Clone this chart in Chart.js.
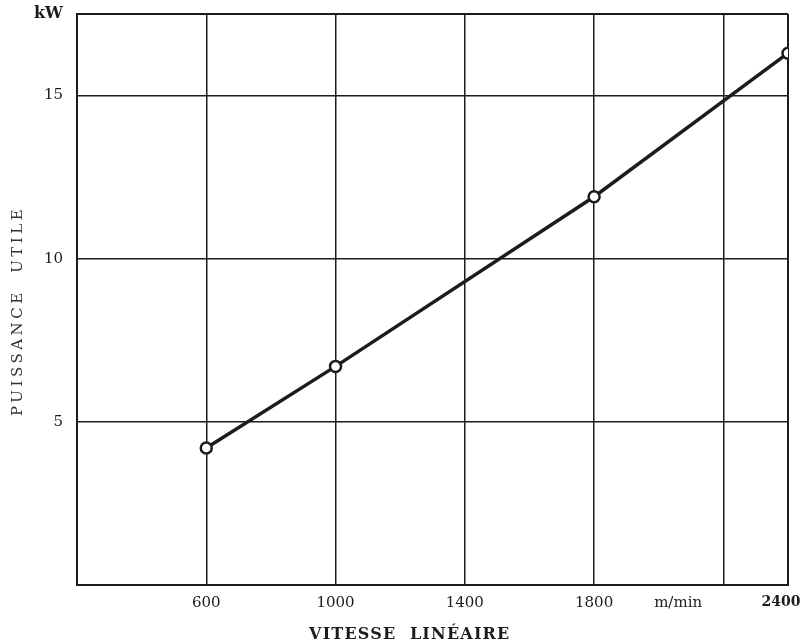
<!DOCTYPE html>
<html>
<head>
<meta charset="utf-8">
<script src="https://cdn.jsdelivr.net/npm/chart.js@4"></script>
<style>
  html, body { margin: 0; padding: 0; background: #fff; }
  #wrap { width: 805px; height: 644px; }
</style>
</head>
<body>
<div id="wrap"><canvas id="c" width="805" height="644"></canvas></div>
<script>
// Useful power against linear speed
const speeds = [600, 1000, 1800, 2400];
const power = [4.2, 6.7, 11.9, 16.3];

// Axis ticks and their labels
const xTicks = [200, 600, 1000, 1400, 1800, 2060, 2200, 2400];
const xTickLabels = ['', '600', '1000', '1400', '1800', 'm/min', '', '2400'];
const yTicks = [0, 5, 10, 15, 17.5];
const yTickLabels = ['', '5', '10', '15', 'kW'];

const xTitle = 'VITESSE  LINÉAIRE';
const yTitle = 'PUISSANCE  UTILE';

const INK = '#1c1c1c';
const SERIF = '"DejaVu Serif", "Liberation Serif", serif';

// Axis titles drawn by hand so they can sit off-centre
const axisTitles = {
  id: 'axisTitles',
  afterDraw(chart) {
    const ctx = chart.ctx;
    const a = chart.chartArea;
    ctx.save();
    ctx.fillStyle = INK;
    ctx.textAlign = 'center';
    ctx.textBaseline = 'middle';
    ctx.font = 'bold 16px ' + SERIF;
    ctx.letterSpacing = '1.2px';
    ctx.fillText(xTitle, a.left + (a.right - a.left) * 0.468, 635);
    ctx.translate(18, a.top + (a.bottom - a.top) * 0.52);
    ctx.rotate(-Math.PI / 2);
    ctx.font = '15px ' + SERIF;
    ctx.fillStyle = '#333';
    ctx.letterSpacing = '3.5px';
    ctx.fillText(yTitle, 0, 0);
    ctx.restore();
  }
};

new Chart(document.getElementById('c'), {
  type: 'line',
  data: {
    datasets: [{
      data: speeds.map((s, i) => ({ x: s, y: power[i] })),
      borderColor: INK,
      borderWidth: 3.5,
      pointRadius: 5.5,
      pointBorderWidth: 2.5,
      pointBackgroundColor: '#fff',
      pointBorderColor: INK,
      tension: 0
    }]
  },
  options: {
    responsive: false,
    animation: false,
    layout: { padding: { left: 0, top: 14, right: 17, bottom: 0 } },
    plugins: { legend: { display: false }, tooltip: { enabled: false } },
    scales: {
      x: {
        type: 'linear',
        min: 200,
        max: 2400,
        afterBuildTicks: s => { s.ticks = xTicks.map(v => ({ value: v })); },
        afterFit: s => { s.height = 59; s.paddingLeft = 0; s.paddingRight = 0; },
        border: { display: true, color: INK, width: 2 },
        grid: {
          drawTicks: false,
          color: c => (c.tick && c.tick.value === 2060) ? 'rgba(0,0,0,0)' : INK,
          lineWidth: c => (c.tick && (c.tick.value === 2400 || c.tick.value === 200)) ? 2 : 1.5
        },
        ticks: {
          autoSkip: false,
          maxRotation: 0,
          padding: 9,
          color: INK,
          font: c => (c.tick && c.tick.value === 2400)
            ? { family: SERIF, size: 14, weight: 'bold' }
            : { family: SERIF, size: 15, weight: 'normal' },
          callback: v => {
            const i = xTicks.indexOf(v);
            if (i < 0) return '';
            // the last label is nudged inward so it stays inside the canvas
            return v === 2400 ? xTickLabels[i] + '\u2003' : xTickLabels[i];
          }
        }
      },
      y: {
        type: 'linear',
        min: 0,
        max: 17.5,
        afterBuildTicks: s => { s.ticks = yTicks.map(v => ({ value: v })); },
        afterFit: s => { s.width = 77; s.paddingTop = 0; s.paddingBottom = 0; },
        border: { display: true, color: INK, width: 2 },
        grid: {
          drawTicks: false,
          color: INK,
          lineWidth: c => (c.tick && (c.tick.value === 17.5 || c.tick.value === 0)) ? 2 : 1.5
        },
        ticks: {
          autoSkip: false,
          padding: 14,
          color: INK,
          font: c => (c.tick && c.tick.value === 17.5)
            ? { family: SERIF, size: 16, weight: 'bold' }
            : { family: SERIF, size: 15, weight: 'normal' },
          callback: v => { const i = yTicks.indexOf(v); return i >= 0 ? yTickLabels[i] : ''; }
        }
      }
    }
  },
  plugins: [axisTitles]
});
</script>
</body>
</html>
